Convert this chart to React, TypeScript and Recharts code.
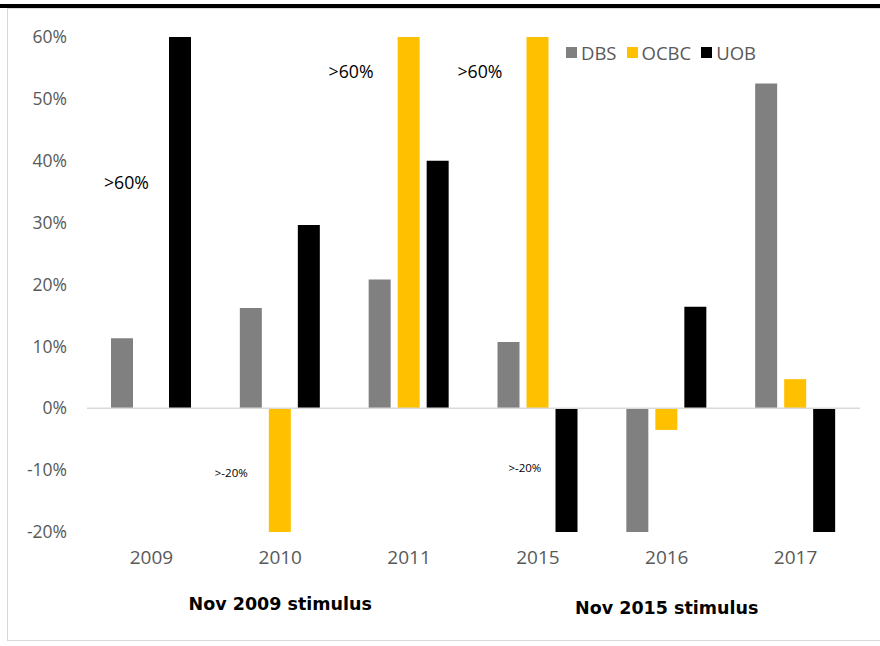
import React from 'react';
import { BarChart, Bar, XAxis, YAxis, ReferenceLine, ReferenceDot, Legend } from 'recharts';

const years = ['2009', '2010', '2011', '2015', '2016', '2017'];
const dbs = [11.3, 16.2, 20.8, 10.7, -20, 52.5];
const ocbc = [0, -20, 60, 60, -3.5, 4.7];
const uob = [60, 29.6, 40, -20, 16.4, -20];
const yTicks = [-20, -10, 0, 10, 20, 30, 40, 50, 60];
const groupYears = ['2010', '2016'];
const groupLabels = ['Nov 2009 stimulus', 'Nov 2015 stimulus'];

const data = years.map((y, i) => ({ year: y, DBS: dbs[i], OCBC: ocbc[i], UOB: uob[i] }));

const COLORS = { DBS: '#808080', OCBC: '#FFC000', UOB: '#000000' };
const FONT = '"Open Sans", sans-serif';

const XTick = (props: any) => {
  const { x, y, payload } = props;
  const gi = groupYears.indexOf(payload.value);
  return (
    <g>
      <text x={x} y={y} dy={30} textAnchor="middle" fill="#595959" fontSize={19} fontFamily={FONT}>
        {payload.value}
      </text>
      {gi >= 0 && (
        <text x={x} y={y} dy={gi === 0 ? 76 : 80} textAnchor="middle" fill="#000" fontSize={17.5} fontWeight="bold" fontFamily='"DejaVu Sans", sans-serif'>
          {groupLabels[gi]}
        </text>
      )}
    </g>
  );
};

const ann = (text: string, dx: number, size: number) => (props: any) => {
  const vb = props.viewBox || {};
  const cx = (vb.x || 0) + (vb.width || 0) / 2;
  const cy = (vb.y || 0) + (vb.height || 0) / 2;
  return (
    <text x={cx + dx} y={cy} dy="0.35em" textAnchor="middle" fill="#000" fontSize={size} fontFamily={FONT}>
      {text}
    </text>
  );
};

const LegendContent = (props: any) => {
  const { payload } = props;
  return (
    <div style={{ display: 'flex', alignItems: 'center', fontFamily: FONT, fontSize: 18.5, color: '#595959' }}>
      {(payload || []).map((p: any) => (
        <div key={p.value} style={{ display: 'flex', alignItems: 'center', marginRight: 10 }}>
          <span style={{ display: 'inline-block', width: 11, height: 11, background: p.color, marginRight: 4 }} />
          <span>{p.value}</span>
        </div>
      ))}
    </div>
  );
};

export default function App() {
  return (
    <div style={{ position: 'absolute', left: 0, top: 0, width: 880, height: 646, background: '#fff', overflow: 'hidden' }}>
      <div style={{ position: 'absolute', left: 0, top: 4, width: 880, height: 4, background: '#000' }} />
      <div style={{ position: 'absolute', left: 7, top: 8, width: 880, height: 633, border: '1px solid #d9d9d9', boxSizing: 'border-box' }} />
      <div style={{ position: 'absolute', left: 0, top: 0 }}>
        <BarChart
          width={880}
          height={646}
          data={data}
          margin={{ top: 37, right: 20, bottom: 84, left: 0 }}
          barSize={22}
          barGap={7}
        >
          <XAxis dataKey="year" axisLine={false} tickLine={false} tickSize={0} height={30} tick={<XTick />} interval={0} />
          <YAxis
            domain={[-20, 60]}
            ticks={yTicks}
            width={87}
            axisLine={false}
            tickLine={false}
            tickSize={0}
            tickMargin={20}
            tickFormatter={(v: number) => `${v}%`}
            tick={{ fill: '#595959', fontSize: 17.5, fontFamily: FONT }}
            allowDataOverflow
          />
          <ReferenceLine y={0} stroke="#d9d9d9" strokeWidth={1.5} />
          <Bar dataKey="DBS" fill={COLORS.DBS} isAnimationActive={false} />
          <Bar dataKey="OCBC" fill={COLORS.OCBC} isAnimationActive={false} />
          <Bar dataKey="UOB" fill={COLORS.UOB} isAnimationActive={false} />
          <ReferenceDot x="2009" y={36.4} r={0} stroke="none" fill="none" label={{ content: ann('>60%', -25, 17.7) }} />
          <ReferenceDot x="2011" y={54.4} r={0} stroke="none" fill="none" label={{ content: ann('>60%', -58, 17.7) }} />
          <ReferenceDot x="2015" y={54.4} r={0} stroke="none" fill="none" label={{ content: ann('>60%', -58, 17.7) }} />
          <ReferenceDot x="2010" y={-10.4} r={0} stroke="none" fill="none" label={{ content: ann('>-20%', -49, 11.5) }} />
          <ReferenceDot x="2015" y={-9.6} r={0} stroke="none" fill="none" label={{ content: ann('>-20%', -13, 11.5) }} />
          <Legend
            content={<LegendContent />}
            layout="horizontal"
            verticalAlign="middle"
            align="center"
            wrapperStyle={{ position: 'absolute', left: 566, top: 40, width: 260 }}
          />
        </BarChart>
      </div>
    </div>
  );
}
